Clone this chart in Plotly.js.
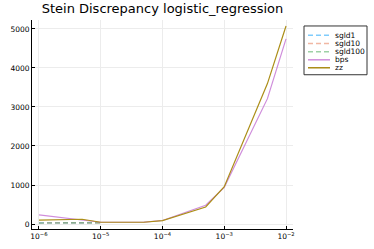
<!DOCTYPE html>
<html>
<head>
<meta charset="utf-8">
<script src="https://cdn.plot.ly/plotly-3.0.1.min.js"></script>
<style>html,body{margin:0;padding:0;background:#fff}#chart{width:374px;height:249px}</style>
</head>
<body>
<div id="chart"></div>
<script>
// ---- data ----
const stepSizes = [1e-6, 5e-6, 1e-5, 5e-5, 1e-4, 5e-4, 1e-3, 5e-3, 1e-2];
const sgldSteps = [1e-6, 5e-6, 1e-5];
const sgld1 = [28, 28, 32];
const sgld10 = [26, 27, 30];
const sgld100 = [25, 26, 29];
const bps = [235, 102, 45, 48, 90, 482, 940, 3214, 4745];
const zz = [100, 122, 45, 45, 85, 436, 958, 3600, 5076];
const seriesNames = ["sgld1", "sgld10", "sgld100", "bps", "zz"];
const xTickVals = [1e-6, 1e-5, 1e-4, 1e-3, 1e-2];
const xTickText = ["10<sup>−6</sup>", "10<sup>−5</sup>", "10<sup>−4</sup>", "10<sup>−3</sup>", "10<sup>−2</sup>"];
const yTickVals = [0, 1000, 2000, 3000, 4000, 5000];
const yTickText = ["0", "1000", "2000", "3000", "4000", "5000"];

// ---- styles ----
const colors = ["rgba(0,154,250,0.5)", "rgba(227,111,71,0.5)", "rgba(62,164,78,0.5)", "rgba(195,113,210,0.8)", "#AC8E18"];
const dashes = ["5px,3px", "5px,3px", "5px,3px", "solid", "solid"];
const seriesY = [sgld1, sgld10, sgld100, bps, zz];
const seriesX = [sgldSteps, sgldSteps, sgldSteps, stepSizes, stepSizes];

const traces = seriesNames.map((n, i) => ({
  x: seriesX[i], y: seriesY[i], name: n, type: "scatter", mode: "lines",
  line: {color: colors[i], width: 1.2, dash: dashes[i]}, showlegend: false
}));

// manual legend (compact, like the reference)
const L = 32, B = 229, W = 261, H = 210;
const px = v => (v - L) / W;
const py = v => (B - v) / H;
const shapes = [{type: "rect", xref: "paper", yref: "paper", x0: px(304), x1: px(367), y0: py(74), y1: py(25),
  line: {color: "#333", width: 1}, fillcolor: "#fff", layer: "above"}];
const annotations = [];
const itemY = [34.3, 42.6, 50.9, 59, 67];
seriesNames.forEach((n, i) => {
  shapes.push({type: "line", xref: "paper", yref: "paper", x0: px(308), x1: px(330), y0: py(itemY[i]), y1: py(itemY[i]),
    line: {color: colors[i], width: 1.5, dash: dashes[i]}, layer: "above"});
  annotations.push({xref: "paper", yref: "paper", x: px(332.5), y: py(itemY[i]), xanchor: "left", yanchor: "middle",
    text: n, showarrow: false, font: {size: 7.5, color: "#000"}});
});

const axisCommon = {
  showline: true, linecolor: "#000", linewidth: 1, mirror: false,
  ticks: "inside", ticklen: 3, tickcolor: "#000", tickwidth: 1,
  showgrid: true, gridcolor: "#ececec", gridwidth: 1, zeroline: false,
  tickfont: {size: 7.5, color: "#000"}
};

const layout = {
  width: 374, height: 249,
  margin: {l: 32, r: 81, t: 20, b: 20},
  paper_bgcolor: "#fff", plot_bgcolor: "#fff",
  font: {family: "DejaVu Sans", color: "#000"},
  title: {text: "Stein Discrepancy logistic_regression", font: {family: "DejaVu Sans", size: 13, color: "#000"},
    x: 0.5, xref: "paper", xanchor: "center", y: 1 - 8.5 / 249, yref: "container", yanchor: "middle"},
  xaxis: Object.assign({}, axisCommon, {type: "log", range: [-6.113, -1.887],
    tickvals: xTickVals, ticktext: xTickText}),
  yaxis: Object.assign({}, axisCommon, {range: [-128, 5230],
    tickvals: yTickVals, ticktext: yTickText}),
  shapes: shapes, annotations: annotations, showlegend: false
};

Plotly.newPlot("chart", traces, layout, {displayModeBar: false, staticPlot: true});
</script>
</body>
</html>
